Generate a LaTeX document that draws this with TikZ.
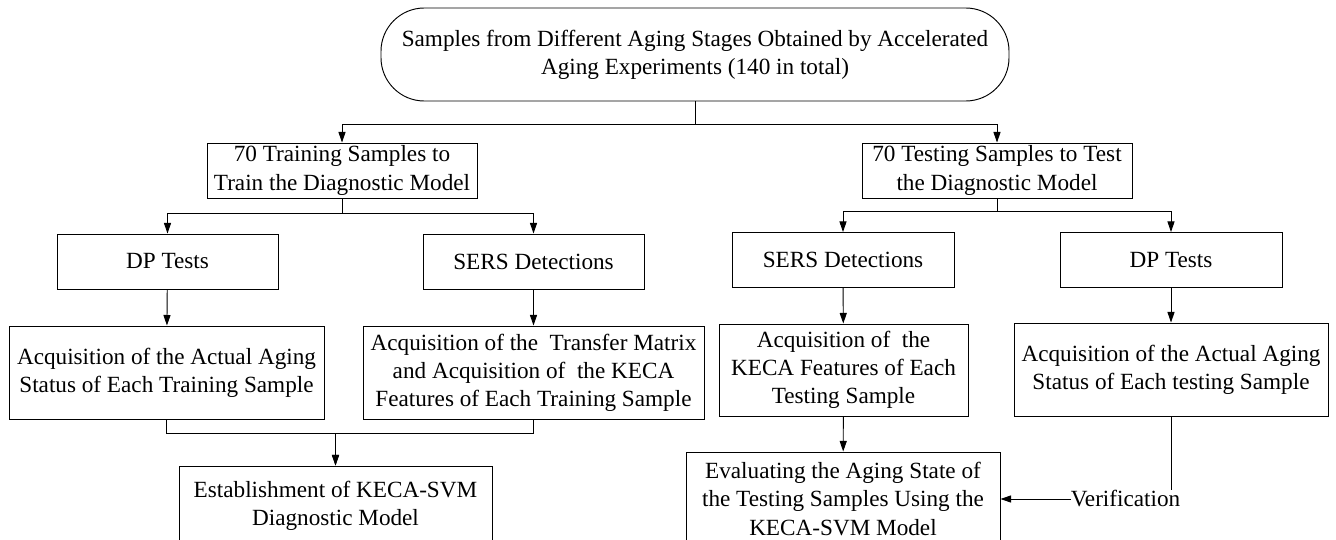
\documentclass[tikz,border=0pt]{standalone}
\usepackage{fontspec}
\setmainfont{Liberation Serif}
\usetikzlibrary{arrows.meta,positioning,calc}

\begin{document}
\begin{tikzpicture}[x=0.03cm,y=-0.03cm,
  stage/.style={draw,line width=0.8pt,minimum width=#1,inner sep=2pt,
                align=center,font=\rmfamily\fontsize{19.8}{24}\selectfont},
  arrow/.style={-{Triangle[length=9pt,width=6pt]},line width=0.8pt},
  link/.style={line width=0.8pt}
]
\clip (0,0) rectangle (1336,540);
\node[stage=18.84cm,minimum height=2.79cm,rounded corners=1.3cm] (samples) at (695,54.5)
  {Samples from Different Aging Stages Obtained by Accelerated\\
   Aging Experiments (140 in total)};
\node[stage=8.1cm,minimum height=1.65cm] (train) at (342,170.5)
  {70 Training Samples to\\ Train the Diagnostic Model};
\node[stage=8.1cm,minimum height=1.65cm] (test) at (997,170.5)
  {70 Testing Samples to Test\\ the Diagnostic Model};
\node[stage=6.63cm,minimum height=1.65cm] (dptrain) at (167.5,261.5) {DP Tests};
\node[stage=6.63cm,minimum height=1.65cm] (serstrain) at (533.5,261.5) {SERS Detections};
\node[stage=6.66cm,minimum height=1.65cm] (serstest) at (843,260) {SERS Detections};
\node[stage=6.66cm,minimum height=1.65cm] (dptest) at (1171,260) {DP Tests};
\node[stage=9.45cm,minimum height=2.79cm] (statustrain) at (166.5,372.5)
  {Acquisition of the Actual Aging\\ Status of Each Training Sample};
\node[stage=10.23cm,minimum height=2.79cm] (kecatrain) at (533.5,372.5)
  {Acquisition of the\ \ Transfer Matrix\\
   and Acquisition of\ \ the KECA\\ Features of Each Training Sample};
\node[stage=7.47cm,minimum height=2.76cm] (kecatest) at (843.5,370)
  {Acquisition of\ \ the\\ KECA Features of Each\\ Testing Sample};
\node[stage=9.42cm,minimum height=2.79cm] (statustest) at (1171,369.5)
  {Acquisition of the Actual Aging\\ Status of Each testing Sample};
\node[stage=9.39cm,minimum height=2.4cm] (model) at (335.5,506)
  {Establishment of KECA-SVM\\ Diagnostic Model};
\node[stage=9.42cm,minimum height=2.82cm] (evaluate) at (843,499)
  {Evaluating the Aging State of\\ the Testing Samples Using the\\ KECA-SVM Model};
\node[inner sep=0pt,font=\rmfamily\fontsize{19.8}{24}\selectfont] (verify) at (1125.5,499) {Verification};

% splits
\draw[arrow] (samples.south) -- ++(0,23) -| (train.north);
\draw[arrow] (samples.south) -- ++(0,23) -| (test.north);
\draw[arrow] (train.south) -- ++(0,15) -| (dptrain.north);
\draw[arrow] (train.south) -- ++(0,15) -| (serstrain.north);
\draw[arrow] (test.south) -- ++(0,13) -| (serstest.north);
\draw[arrow] (test.south) -- ++(0,13) -| (dptest.north);
% straight steps
\draw[arrow] (dptrain) -- (statustrain);
\draw[arrow] (serstrain) -- (kecatrain);
\draw[arrow] (serstest) -- (kecatest);
\draw[arrow] (dptest) -- (statustest);
\draw[arrow] (kecatest) -- (evaluate);
% merge
\draw[arrow] (statustrain.south) -- ++(0,14) -| (model.north);
\draw[arrow] (kecatrain.south) -- ++(0,14) -| (model.north);
% check
\draw[link] (statustest.south) -- (statustest.south |- verify.north);
\draw[arrow] (verify.west) -- (evaluate.east);
\end{tikzpicture}
\end{document}
